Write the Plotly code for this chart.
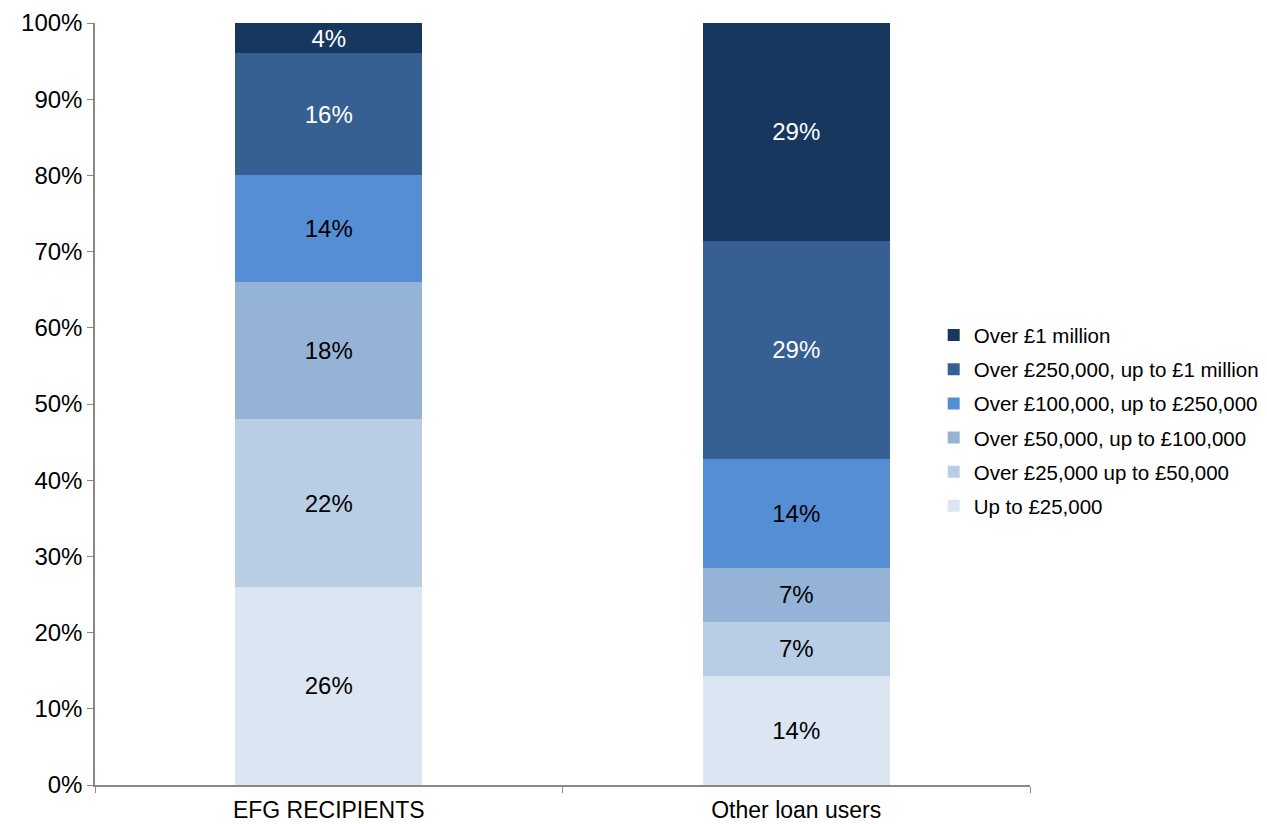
import plotly.graph_objects as go

groups = ["EFG RECIPIENTS", "Other loan users"]
bands = ["Up to £25,000", "Over £25,000 up to £50,000", "Over £50,000, up to £100,000",
         "Over £100,000, up to £250,000", "Over £250,000, up to £1 million", "Over £1 million"]
efg = [26, 22, 18, 14, 16, 4]
other = [14.3, 7.1, 7.1, 14.3, 28.6, 28.6]
colors = ["#DCE6F2", "#B9CDE5", "#95B3D7", "#558ED5", "#366092", "#17375E"]
text_colors = ["black", "black", "black", "black", "white", "white"]

fig = go.Figure()
for i, band in enumerate(bands):
    fig.add_trace(go.Bar(
        x=groups, y=[efg[i], other[i]], name=band, legendgroup=band,
        legendrank=100 - i,  # biggest loans listed first
        marker=dict(color=colors[i], line=dict(width=0)),
        texttemplate="%{y:.0f}%", textposition="inside", insidetextanchor="middle",
        textangle=0, constraintext="none",
        insidetextfont=dict(color=text_colors[i], size=24, family="Liberation Sans"),
    ))

# page body has an 8px margin, so the figure is offset by 8px
fig.update_layout(
    barmode="stack", bargap=0.6,
    width=1259, height=816,
    margin=dict(l=87, r=237, t=15, b=39, autoexpand=False),
    plot_bgcolor="white", paper_bgcolor="white",
    font=dict(family="Liberation Sans", size=24, color="black"),
    legend=dict(traceorder="grouped", x=0.897, xanchor="left", y=0.478,
                yanchor="middle", font=dict(size=20.5), tracegroupgap=4.5, itemwidth=30),
)
fig.update_yaxes(range=[0, 100], tickvals=list(range(0, 101, 10)),
                 ticktext=[f"{v}%" for v in range(0, 101, 10)],
                 showgrid=False, showline=True, linecolor="#888888", linewidth=1.5,
                 ticks="outside", ticklen=6, tickcolor="#888888", zeroline=False,
                 automargin=False)
fig.update_xaxes(showline=True, linecolor="#888888", linewidth=1.5,
                 ticks="outside", tickson="boundaries", ticklen=6, tickcolor="#888888",
                 range=[-0.5, 1.5], automargin=False, tickfont=dict(size=23),
                 ticklabelstandoff=4)

fig.write_html("out.html")
